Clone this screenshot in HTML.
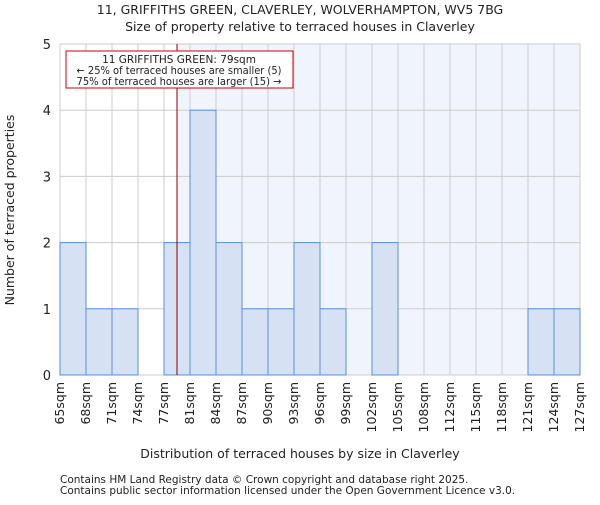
<!DOCTYPE html>
<html><head><meta charset="utf-8"><style>
body{margin:0;background:#fff;}
svg text{font-family:"DejaVu Sans","Liberation Sans",sans-serif;fill:#222;}
</style></head><body>
<svg id="chart" width="600" height="500">
<text x="300" y="14" text-anchor="middle" font-size="12.5">11, GRIFFITHS GREEN, CLAVERLEY, WOLVERHAMPTON, WV5 7BG</text>
<text x="300" y="31" text-anchor="middle" font-size="12.5">Size of property relative to terraced houses in Claverley</text>
<g id="plot"></g>
<text x="300" y="458" text-anchor="middle" font-size="12.5">Distribution of terraced houses by size in Claverley</text>
<text transform="translate(14,210) rotate(-90)" text-anchor="middle" font-size="12.5">Number of terraced properties</text>
<text x="60" y="483" font-size="10.5" fill="#444">Contains HM Land Registry data © Crown copyright and database right 2025.</text>
<text x="60" y="494" font-size="10.5" fill="#444">Contains public sector information licensed under the Open Government Licence v3.0.</text>
</svg>
<script>
const binLabels=["65sqm","68sqm","71sqm","74sqm","77sqm","81sqm","84sqm","87sqm","90sqm","93sqm","96sqm","99sqm","102sqm","105sqm","108sqm","112sqm","115sqm","118sqm","121sqm","124sqm","127sqm"];
const counts=[2,1,1,0,2,4,2,1,1,2,1,0,2,0,0,0,0,0,1,1];
const yTicks=[0,1,2,3,4,5];
const propertyBinPos=[4.5];
const NS="http://www.w3.org/2000/svg";
const X0=60,X1=580,Y0=375,Y1=44,YMAX=5;
const bw=(X1-X0)/counts.length;
const xs=i=>X0+i*bw;
const ys=v=>Y0-(Y0-Y1)*v/YMAX;
const g=document.getElementById('plot');
function mk(t,a){const e=document.createElementNS(NS,t);for(const k in a)e.setAttribute(k,a[k]);g.appendChild(e);return e;}
const px=xs(propertyBinPos[0]);
let e=mk('rect',{x:px,y:Y1,width:X1-px,height:Y0-Y1,fill:'#f0f4fd'});


for(let i=0;i<=counts.length;i++){e=mk('line',{x1:xs(i),x2:xs(i),y1:Y1,y2:Y0,stroke:'#ccc','stroke-width':1});

}
yTicks.forEach(t=>{e=mk('line',{x1:X0,x2:X1,y1:ys(t),y2:ys(t),stroke:'#ccc','stroke-width':1});


e=mk('text',{x:X0-9,y:ys(t)+5,'text-anchor':'end','font-size':13});e.textContent=t;

});
counts.forEach((c,i)=>{if(c<=0)return;
e=mk('rect',{x:xs(i),y:ys(c),width:bw,height:Y0-ys(c),fill:'#d6e1f4',stroke:'#5a8fd8','stroke-width':1});

});
binLabels.forEach((l,i)=>{const x=xs(i)+4;
e=mk('text',{transform:`translate(${x},382) rotate(-90)`,'text-anchor':'end','font-size':12.5});e.textContent=l;

});
e=mk('line',{x1:px,x2:px,y1:Y1,y2:Y0,stroke:'#800','stroke-width':1});


e=mk('rect',{x:66,y:51,width:227,height:37,fill:'#fff',stroke:'#c00','stroke-width':1});


[["11 GRIFFITHS GREEN: 79sqm",63],["← 25% of terraced houses are smaller (5)",74],["75% of terraced houses are larger (15) →",85]].forEach((a,i)=>{
e=mk('text',{x:179,y:a[1],'text-anchor':'middle','font-size':10.5,textLength:205,lengthAdjust:'spacingAndGlyphs'});e.textContent=a[0];
if(i===0){e.removeAttribute('textLength');}

});
</script>
</body></html>
